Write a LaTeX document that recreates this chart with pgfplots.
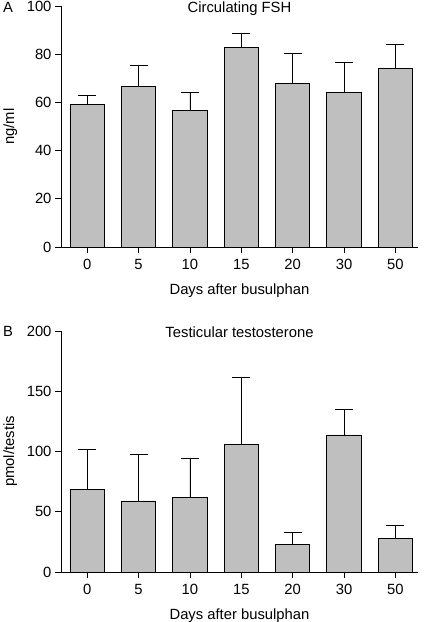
\documentclass[border=0pt]{standalone}
\usepackage{pgfplots}
\pgfplotsset{compat=1.18}
\usepackage{fontspec}
\setmainfont{Liberation Sans}
\definecolor{barfill}{RGB}{191,191,191}
\pgfplotsset{
  panel/.style={
    scale only axis,
    width=357pt, height=241pt,
    axis x line*=bottom, axis y line*=left,
    xmin=-0.51, xmax=6.44,
    xtick={0,...,6},
    xticklabels={0,5,10,15,20,30,50},
    tick align=outside,
    major tick length=6pt,
    axis line style={line width=0.8pt},
    tick style={line width=0.8pt, black},
    font=\fontsize{14.8}{17}\selectfont,
    /pgf/number format/assume math mode=true,
    ticklabel style={font=\fontsize{14.8}{17}\selectfont},
    xticklabel style={yshift=-2.5pt},
    xlabel={Days after busulphan},
    xlabel style={yshift=-7pt},
    every axis title shift=0pt,
    title style={at={(axis description cs:0.5,1)}, anchor=base, yshift=-6.3pt},
    ylabel style={at={(axis description cs:-0.1715,0.5)}, anchor=north},
    ymin=0,
    clip=false,
  },
  barplot/.style={
    ybar, bar width=0.67, fill=barfill, draw=black, line width=0.8pt,
    bar shift=0pt,
    error bars/.cd, y dir=plus, y explicit,
    error mark options={rotate=90, mark size=9pt, line width=0.8pt, black},
    error bar style={line width=0.8pt, black},
  },
}
\begin{document}
\begin{tikzpicture}
\useasboundingbox (0,0) rectangle (425pt,-622pt);
\begin{axis}[panel, at={(61pt,-6pt)}, anchor=north west,
  ymax=100, ytick={0,20,...,100},
  title={Circulating FSH}, ylabel={ng/ml}]
\addplot[barplot] coordinates {
  (0,59.3) +- (0,3.8)
  (1,66.8) +- (0,8.6)
  (2,56.8) +- (0,7.4)
  (3,82.7) +- (0,6.0)
  (4,68.0) +- (0,12.2)
  (5,64.2) +- (0,12.6)
  (6,74.1) +- (0,9.9)
};
\end{axis}
\begin{axis}[panel, at={(61pt,-331pt)}, anchor=north west,
  ymax=200, ytick={0,50,...,200},
  title={Testicular testosterone}, ylabel={pmol/testis}]
\addplot[barplot] coordinates {
  (0,68.7) +- (0,32.8)
  (1,59.0) +- (0,38.9)
  (2,62.1) +- (0,32.0)
  (3,105.7) +- (0,56.0)
  (4,23.2) +- (0,9.6)
  (5,113.7) +- (0,21.2)
  (6,27.9) +- (0,10.7)
};
\end{axis}
\node[anchor=base west, font=\fontsize{14.8}{17}\selectfont, inner sep=0pt] at (3pt,-12.3pt) {A};
\node[anchor=base west, font=\fontsize{14.8}{17}\selectfont, inner sep=0pt] at (3pt,-336.7pt) {B};
\end{tikzpicture}
\end{document}
